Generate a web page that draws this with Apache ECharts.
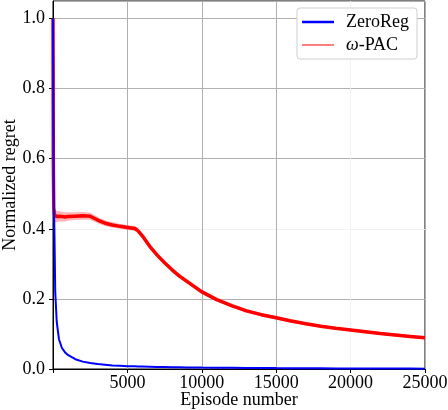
<!DOCTYPE html>
<html>
<head>
<meta charset="utf-8">
<script src="https://cdn.jsdelivr.net/npm/echarts@6/dist/echarts.min.js"></script>
<style>html,body{margin:0;padding:0;background:#fff}#c{width:448px;height:410px}</style>
</head>
<body>
<div id="c"></div>
<script>
const episodes = [0, 20, 50, 100, 150, 250, 400, 600, 800, 1000, 1500, 2000, 2500, 3000, 3500, 4000, 4500, 5000, 5500, 5700, 6000, 6500, 7000, 7500, 8000, 8500, 9000, 10000, 11000, 12000, 13000, 14000, 15000, 16000, 17000, 18000, 19000, 20000, 21000, 22000, 23000, 24000, 25000];
const omegaPAC = [1.0, 0.6, 0.46, 0.44, 0.436, 0.435, 0.436, 0.435, 0.434, 0.435, 0.436, 0.437, 0.436, 0.425, 0.416, 0.411, 0.407, 0.404, 0.401, 0.395, 0.38, 0.35, 0.325, 0.303, 0.283, 0.265, 0.25, 0.22, 0.198, 0.181, 0.166, 0.155, 0.146, 0.137, 0.129, 0.122, 0.116, 0.111, 0.106, 0.101, 0.097, 0.093, 0.089];
const omegaPACSpread = [0.0, 0.03, 0.022, 0.02, 0.018, 0.016, 0.015, 0.014, 0.013, 0.012, 0.011, 0.011, 0.01, 0.009, 0.008, 0.008, 0.007, 0.007, 0.007, 0.007, 0.007, 0.007, 0.007, 0.006, 0.006, 0.006, 0.006, 0.006, 0.005, 0.005, 0.005, 0.005, 0.005, 0.005, 0.004, 0.004, 0.004, 0.004, 0.004, 0.004, 0.004, 0.004, 0.004];
const zeroReg = [1.0, 0.75, 0.5, 0.38, 0.22, 0.135, 0.085, 0.06, 0.048, 0.04, 0.028, 0.021, 0.017, 0.014, 0.012, 0.01, 0.009, 0.008, 0.0075, 0.0072, 0.007, 0.0065, 0.006, 0.0055, 0.005, 0.0048, 0.0045, 0.004, 0.0037, 0.0034, 0.0031, 0.0028, 0.0025, 0.0023, 0.0021, 0.0019, 0.0017, 0.0015, 0.0014, 0.0013, 0.0012, 0.0011, 0.001];
const xTicks = [5000, 10000, 15000, 20000, 25000];
const yTicks = [0.0, 0.2, 0.4, 0.6, 0.8, 1.0];

const FONT = 'Liberation Serif';
const FS = 18;
const pair = (ys) => episodes.map((x, i) => [x, ys[i]]);

const chart = echarts.init(document.getElementById('c'), null, {renderer: 'canvas'});
chart.setOption({
  animation: false,
  backgroundColor: '#fff',
  textStyle: {fontFamily: FONT, color: '#000'},
  grid: {left: 53, right: 23, top: 1, bottom: 41, containLabel: false, outerBoundsMode: 'none',
    show: true, borderColor: '#000', borderWidth: 1, backgroundColor: 'transparent'},
  legend: {
    right: 31, top: 8,
    orient: 'vertical',
    padding: [5, 8, 5, 5],
    itemGap: 5,
    itemWidth: 32, itemHeight: 13,
    backgroundColor: '#fff',
    borderColor: '#d0d0d0', borderWidth: 1, borderRadius: 3,
    textStyle: {fontFamily: FONT, fontSize: FS, color: '#000', padding: [0, 0, 0, 7],
      rich: {i: {fontFamily: FONT, fontStyle: 'italic', fontSize: FS, color: '#000'}}},
    formatter: (n) => n === 'ω-PAC' ? '{i|ω}-PAC' : n,
    data: [
      {name: 'ZeroReg', icon: 'path://M0,0 L32,0 L32,2.5 L0,2.5 Z',
        itemStyle: {color: '#0000ff', borderWidth: 0, borderColor: 'transparent', opacity: 1},
        lineStyle: {width: 2.5, color: '#0000ff'}},
      {name: 'ω-PAC', icon: 'path://M0,0 L32,0 L32,1 L0,1 Z',
        itemStyle: {color: '#ff0000', borderWidth: 0, borderColor: 'transparent', opacity: 1},
        lineStyle: {width: 1, color: '#ff0000'}}
    ]
  },
  xAxis: {
    type: 'value', min: 0, max: 25000, interval: 5000,
    name: 'Episode number', nameLocation: 'middle', nameGap: 22, nameMoveOverlap: false,
    nameTextStyle: {fontFamily: FONT, fontSize: FS, color: '#000'},
    axisLine: {show: true, lineStyle: {color: '#000', width: 1}},
    axisTick: {show: true, inside: false, length: 4, lineStyle: {color: '#000'}},
    axisLabel: {fontFamily: FONT, fontSize: FS, color: '#000', margin: 5,
      formatter: (v) => xTicks.indexOf(v) >= 0 ? String(v) : ''},
    splitLine: {show: true, lineStyle: {color: ['#b0b0b0', '#b0b0b0', '#b0b0b0', '#b0b0b0', '#f2f2f2', '#b0b0b0'], width: 1}}
  },
  yAxis: {
    type: 'value', min: 0, max: 1.05, interval: 0.2,
    name: 'Normalized regret', nameLocation: 'middle', nameGap: 34, nameMoveOverlap: false,
    nameTextStyle: {fontFamily: FONT, fontSize: FS, color: '#000'},
    axisLine: {show: true, lineStyle: {color: '#000', width: 1}},
    axisTick: {show: true, inside: false, length: 4, lineStyle: {color: '#000'}},
    axisLabel: {fontFamily: FONT, fontSize: FS, color: '#000', margin: 8, showMaxLabel: false,
      formatter: (v) => {
        const hit = yTicks.find(t => Math.abs(t - v) < 1e-9);
        return hit === undefined ? '' : hit.toFixed(1);
      }},
    splitLine: {show: true, lineStyle: {color: ['#b0b0b0', '#b0b0b0', '#f2f2f2', '#b0b0b0', '#b0b0b0', '#b0b0b0', '#b0b0b0'], width: 1}}
  },
  series: [
    {
      name: 'band', type: 'custom', silent: true, z: 2,
      data: [0],
      renderItem: (params, api) => {
        const upper = episodes.map((x, i) => api.coord([x, omegaPAC[i] + omegaPACSpread[i]]));
        const lower = episodes.map((x, i) => api.coord([x, omegaPAC[i] - omegaPACSpread[i]])).reverse();
        return {
          type: 'polygon',
          shape: {points: upper.concat(lower)},
          style: {fill: 'rgba(255,90,90,0.45)', stroke: 'none'}
        };
      }
    },
    {name: 'ω-PAC', type: 'line', data: pair(omegaPAC), symbol: 'none', smooth: false,
      lineStyle: {color: '#ff0000', width: 3.5}, itemStyle: {color: '#ff0000'}, z: 3},
    {name: 'ZeroReg', type: 'line', data: pair(zeroReg), symbol: 'none', smooth: false,
      lineStyle: {color: '#0000ff', width: 2}, itemStyle: {color: '#0000ff'}, z: 4}
  ]
});
</script>
</body>
</html>
